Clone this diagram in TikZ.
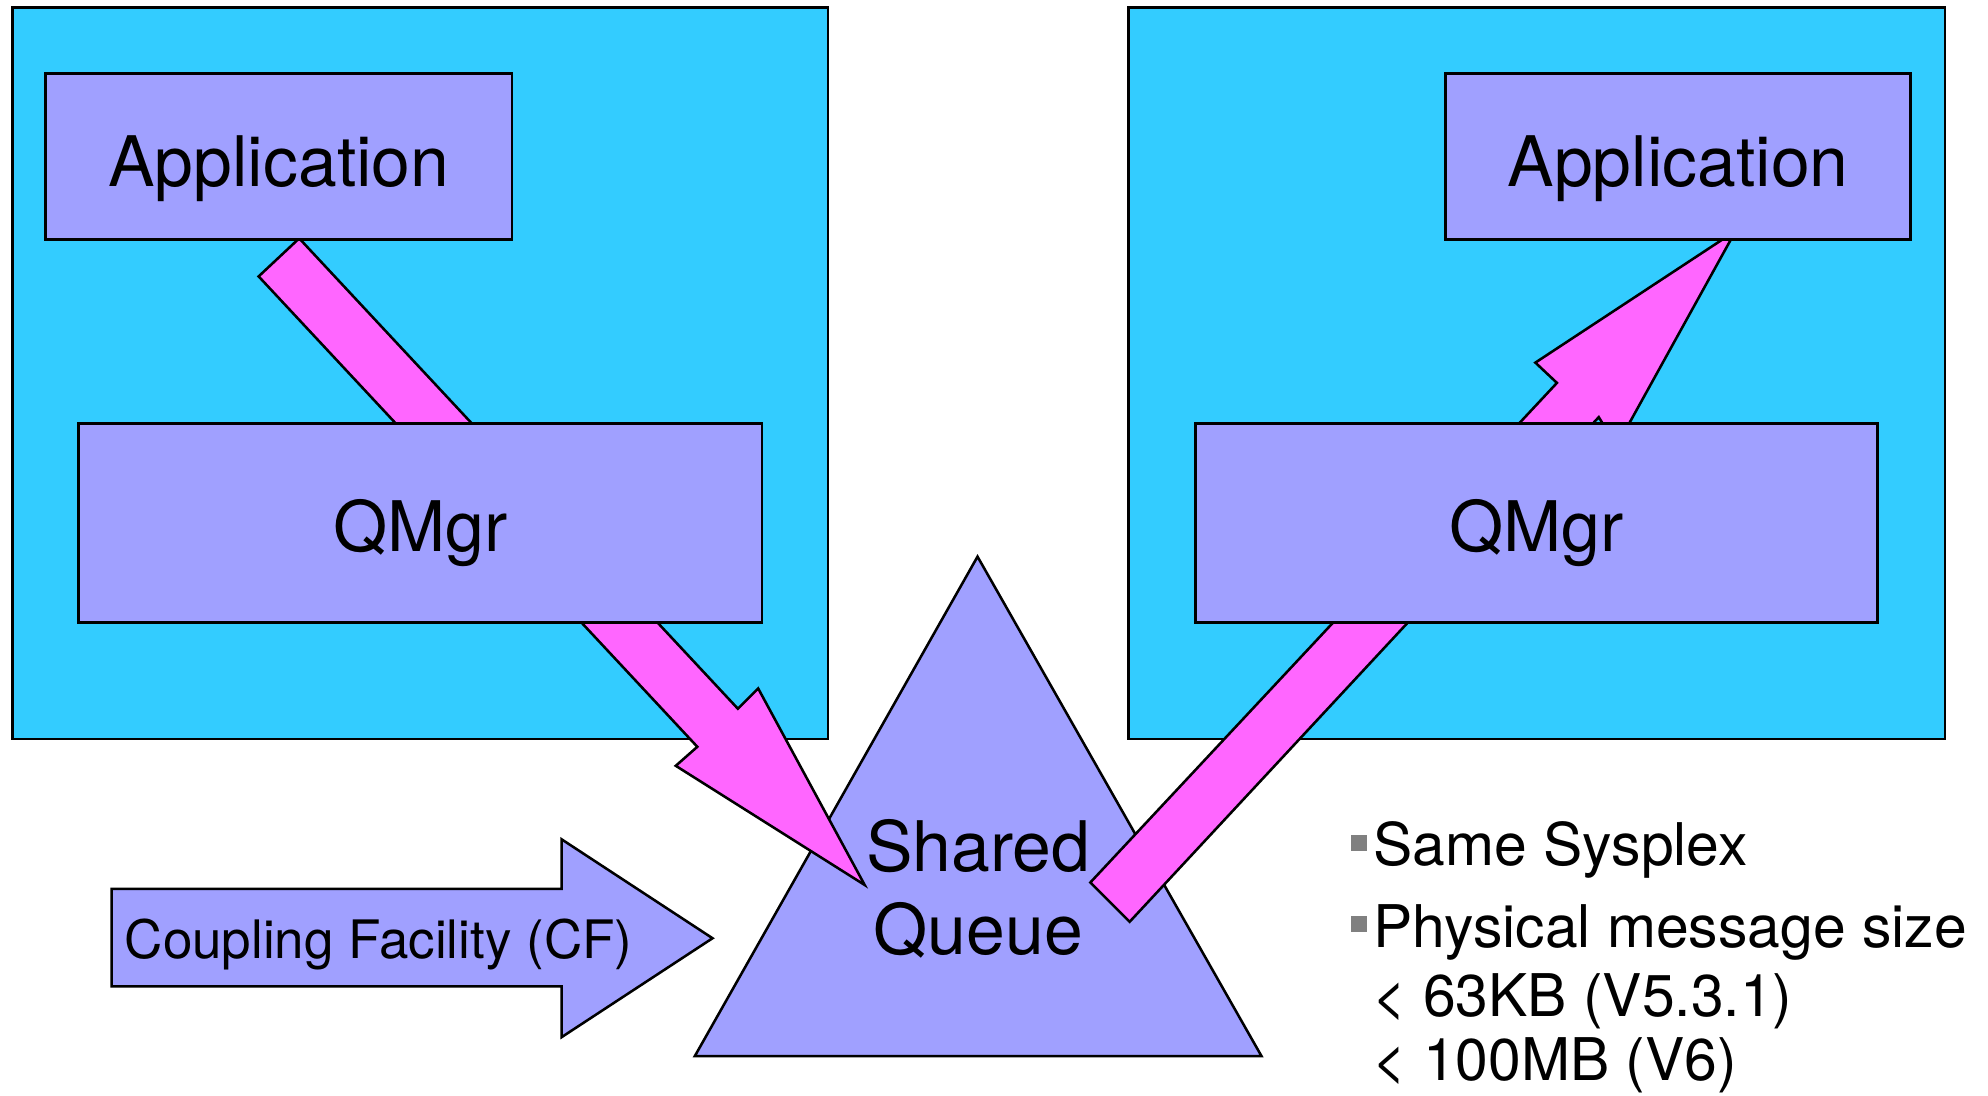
\documentclass[tikz,border=0pt]{standalone}
\usepackage{fontspec}
\setmainfont{TeX Gyre Heros}
\definecolor{sysblue}{RGB}{51,204,255}
\definecolor{lav}{RGB}{160,160,255}
\definecolor{flow}{RGB}{255,102,255}
\definecolor{bulletgray}{RGB}{128,128,128}
\begin{document}
\begin{tikzpicture}[x=0.5pt,y=-0.5pt,
  outline/.style={draw=black,line width=1pt,line join=miter},
  sysbox/.style={outline,fill=sysblue,inner sep=0pt,outer sep=0pt},
  compbox/.style={outline,fill=lav,inner sep=0pt,outer sep=0pt},
  flowarrow/.style={outline,fill=flow},
  biglabel/.style={inner sep=0pt,anchor=base,font=\fontsize{27.5pt}{33pt}\selectfont},
  cflabel/.style={inner sep=0pt,anchor=base west,font=\fontsize{20.9pt}{25pt}\selectfont},
  notelabel/.style={inner sep=0pt,anchor=base west,font=\fontsize{23.2pt}{28pt}\selectfont},
  bulletsq/.style={fill=bulletgray,inner sep=0pt,minimum size=6.3pt}]
\useasboundingbox (0,0) rectangle (1568,864);

% system images
\node[sysbox,minimum width=321.5pt,minimum height=288.5pt] (sysL) at (331.5,294.5) {};
\node[sysbox,minimum width=322pt,minimum height=288.5pt] (sysR) at (1212,294.5) {};

% shared queue in the coupling facility
\coordinate (sqTop) at (771,439);
\coordinate (sqLeft) at (548,833);
\coordinate (sqRight) at (995,833);
\draw[outline,fill=lav] (sqTop) -- (sqRight) -- (sqLeft) -- cycle;

% coupling facility block arrow
\draw[outline,fill=lav] (88,701) -- (443,701) -- (443,662) -- (562,740)
  -- (443,818) -- (443,778) -- (88,778) -- cycle;

% put: application -> shared queue
\draw[flowarrow] (236,188) -- (582,559) -- (598,543) -- (682,698)
  -- (533,604) -- (550,589) -- (204,218) -- cycle;
% get: shared queue -> application
\draw[flowarrow] (860,696) -- (1228,302) -- (1211,286) -- (1369,182)
  -- (1275,352) -- (1261,329) -- (891,727) -- cycle;

% applications and queue managers
\node[compbox,minimum width=184pt,minimum height=65.5pt] (appL) at (220,123.5) {};
\node[compbox,minimum width=269.5pt,minimum height=78.5pt] (qmL) at (331.5,412.5) {};
\node[compbox,minimum width=183.5pt,minimum height=65.5pt] (appR) at (1323.5,123.5) {};
\node[compbox,minimum width=269pt,minimum height=78.5pt] (qmR) at (1212,412.5) {};

% labels
\node[biglabel] (appLtxt) at (220,147) {Application};
\node[biglabel] (qmLtxt) at (331.5,435) {QMgr};
\node[biglabel] (appRtxt) at (1323.5,147) {Application};
\node[biglabel] (qmRtxt) at (1212,435) {QMgr};
\node[biglabel] (sqtxt1) at (771.5,687) {Shared};
\node[biglabel] (sqtxt2) at (771.5,753) {Queue};
\node[cflabel] (cftxt) at (98,756) {Coupling Facility (CF)};

% notes
\node[bulletsq] (b1) at (1072,664.5) {};
\node[notelabel] (n1) at (1083,683) {Same Sysplex};
\node[bulletsq] (b2) at (1072,728.5) {};
\node[notelabel] (n2) at (1083,747) {Physical message size};
\node[notelabel] (n3) at (1082,802) {< 63KB (V5.3.1)};
\node[notelabel] (n4) at (1082,852) {< 100MB (V6)};
\end{tikzpicture}
\end{document}
